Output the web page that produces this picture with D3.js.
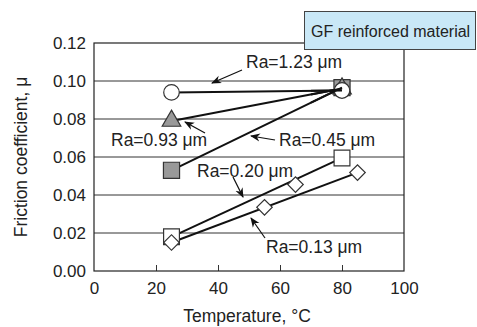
<!DOCTYPE html>
<html>
<head>
<meta charset="utf-8">
<script src="https://cdn.jsdelivr.net/npm/d3@7"></script>
<style>
body { margin: 0; background: #fff; }
text { font-family: "Liberation Sans", Arial, sans-serif; fill: #222; }
</style>
</head>
<body>
<script>
// datos
let xTicks = [0, 20, 40, 60, 80, 100];
let yTicks = [0, 0.02, 0.04, 0.06, 0.08, 0.10, 0.12];

let ra123 = [[25, 0.094], [80, 0.095]];
let ra093 = [[25, 0.079], [80, 0.096]];
let ra045 = [[25, 0.053], [80, 0.0965]];
let ra020 = [[25, 0.018], [80, 0.0595]];
let ra013 = [[25, 0.015], [55, 0.0335], [65, 0.0455], [85, 0.0518]];

let labels = ["Ra=1.23 \u03bcm", "Ra=0.93 \u03bcm", "Ra=0.45 \u03bcm", "Ra=0.20 \u03bcm", "Ra=0.13 \u03bcm"];

let width = 477, height = 327;
let margin = {left: 94, right: 73, top: 43, bottom: 56};

let svg = d3.select("body").append("svg")
  .attr("width", width)
  .attr("height", height);

let x = d3.scaleLinear().domain([0, 100]).range([margin.left, width - margin.right]);
let y = d3.scaleLinear().domain([0, 0.12]).range([height - margin.bottom, margin.top]);

svg.append("defs").append("marker")
  .attr("id", "arrow")
  .attr("viewBox", "0 0 10 10")
  .attr("refX", 9).attr("refY", 5)
  .attr("markerWidth", 10).attr("markerHeight", 10)
  .attr("markerUnits", "userSpaceOnUse")
  .attr("orient", "auto")
  .append("path")
  .attr("d", "M0,1 L10,5 L0,9 L3,5 Z")
  .attr("fill", "#111");

// rejilla horizontal
svg.append("g").selectAll("line")
  .data(yTicks.slice(1, -1))
  .enter().append("line")
  .attr("x1", x(0)).attr("x2", x(100))
  .attr("y1", d => y(d)).attr("y2", d => y(d))
  .attr("stroke", "#333").attr("stroke-width", 1);

// ejes
let xAxis = d3.axisBottom(x).tickValues(xTicks).tickSize(-6).tickPadding(11).tickFormat(d3.format("d"));
let gx = svg.append("g").attr("transform", "translate(0," + y(0) + ")").call(xAxis);
gx.select(".domain").remove();
gx.selectAll(".tick line").attr("stroke", "#333").filter(d => d == 0 || d == 100).remove();
gx.selectAll("text").style("font-size", "17px").attr("fill", "#222");

let yAxis = d3.axisLeft(y).tickValues(yTicks).tickSize(0).tickPadding(8).tickFormat(d3.format(".2f"));
let gy = svg.append("g").attr("transform", "translate(" + x(0) + ",0)").call(yAxis);
gy.select(".domain").remove();
gy.selectAll("text").style("font-size", "17px").attr("fill", "#222");

svg.append("rect")
  .attr("x", x(0)).attr("y", y(0.12))
  .attr("width", x(100) - x(0)).attr("height", y(0) - y(0.12))
  .attr("fill", "none").attr("stroke", "#222").attr("stroke-width", 1.2);

// líneas de tendencia
let line = d3.line().x(d => x(d[0])).y(d => y(d[1]));
[ra123, ra093, ra045, ra020, ra013].forEach(function(s) {
  svg.append("path")
    .datum([s[0], s[s.length - 1]])
    .attr("d", line)
    .attr("fill", "none").attr("stroke", "#111").attr("stroke-width", 2);
});

// marcadores
let sym = function(type, size) { return d3.symbol().type(type).size(size); };
function markers(data, type, size, fill) {
  svg.append("g").selectAll("path")
    .data(data).enter().append("path")
    .attr("transform", d => "translate(" + x(d[0]) + "," + y(d[1]) + ")" + (type == "diamond" ? " rotate(45)" : ""))
    .attr("d", sym(type == "diamond" ? d3.symbolSquare : type, size)())
    .attr("fill", fill).attr("stroke", "#333").attr("stroke-width", 1.2);
}
markers(ra045, d3.symbolSquare, 260, "#999");
markers(ra093, d3.symbolTriangle, 150, "#999");
markers(ra020, d3.symbolSquare, 250, "#fff");
markers(ra013, "diamond", 120, "#fff");
markers(ra123, d3.symbolCircle, 190, "#fff");

// re-dibujar las líneas sobre el marcador final a 80°C
[ra123, ra093, ra045].forEach(function(s) {
  svg.append("path")
    .datum([[s[1][0] - 10, s[0][1] + (s[1][1] - s[0][1]) * 45 / 55], s[1]])
    .attr("d", line)
    .attr("fill", "none").attr("stroke", "#111").attr("stroke-width", 2);
});

// etiquetas con flechas
let notes = [
  {t: labels[0], tx: 246, ty: 62, ax: [242, 70], ah: [212, 83]},
  {t: labels[1], tx: 111, ty: 140, ax: [205, 133], ah: [185, 122]},
  {t: labels[2], tx: 279, ty: 140, ax: [275, 140], ah: [251, 136]},
  {t: labels[3], tx: 197, ty: 171, ax: [233, 177], ah: [243, 197]},
  {t: labels[4], tx: 266, ty: 247, ax: [265, 238], ah: [251, 218]}
];
notes.forEach(function(n) {
  svg.append("line")
    .attr("x1", n.ax[0]).attr("y1", n.ax[1])
    .attr("x2", n.ah[0]).attr("y2", n.ah[1])
    .attr("stroke", "#111").attr("stroke-width", 1.2)
    .attr("marker-end", "url(#arrow)");
  svg.append("text")
    .attr("x", n.tx).attr("y", n.ty)
    .attr("dy", "0.35em")
    .style("font-size", "17.5px")
    .text(n.t);
});

// recuadro del material
svg.append("rect")
  .attr("x", 304.5).attr("y", 11.5)
  .attr("width", 171).attr("height", 38)
  .attr("fill", "#c9e8f7").attr("stroke", "#444").attr("stroke-width", 1);
svg.append("text")
  .attr("x", 311).attr("y", 31)
  .attr("dy", "0.35em")
  .style("font-size", "16px")
  .text("GF reinforced material");

// títulos de ejes
svg.append("text")
  .attr("x", 247).attr("y", 316)
  .attr("dy", "0.35em")
  .attr("text-anchor", "middle")
  .style("font-size", "17.5px")
  .text("Temperature, \u00b0C");

svg.append("text")
  .attr("transform", "translate(21," + ((y(0) + y(0.12)) / 2) + ") rotate(-90)")
  .attr("dy", "0.35em")
  .attr("text-anchor", "middle")
  .style("font-size", "17.5px")
  .text("Friction coefficient, \u03bc");
</script>
</body>
</html>
